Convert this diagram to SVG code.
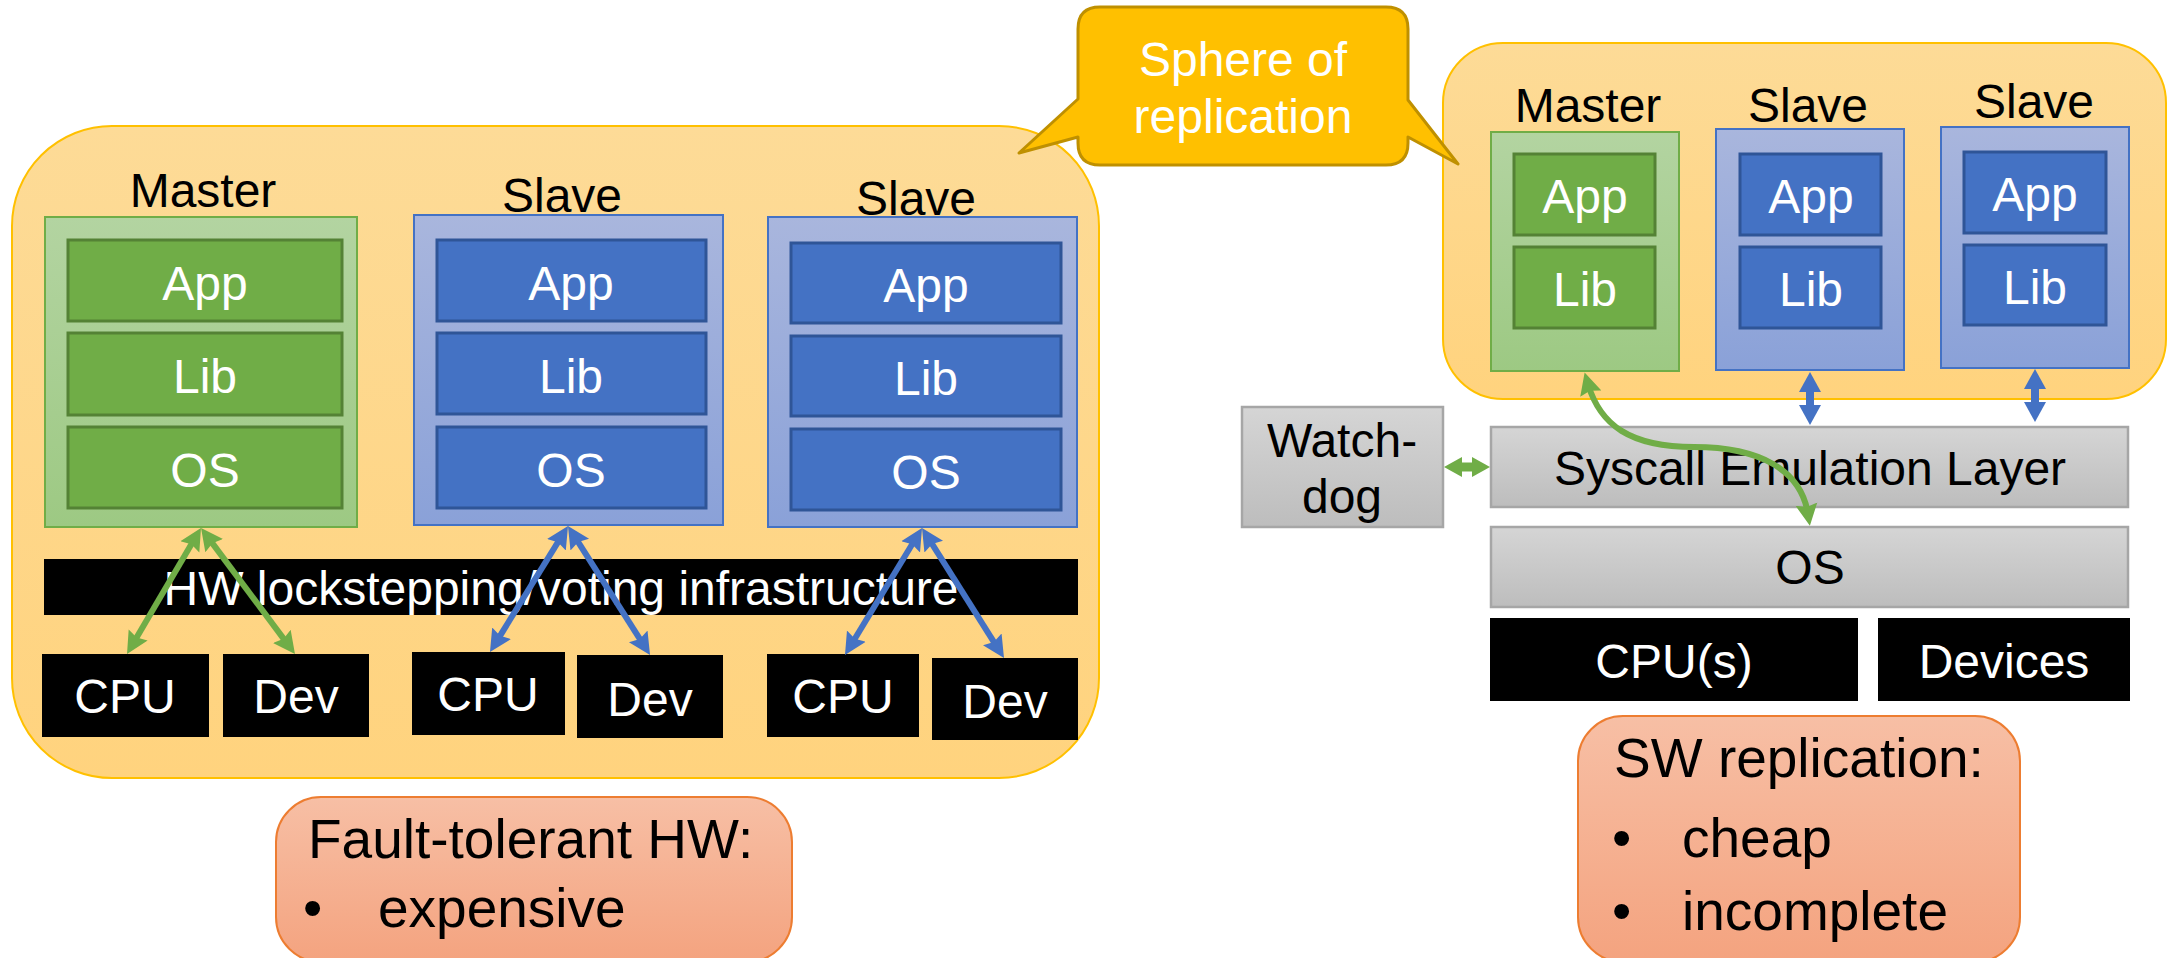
<svg xmlns="http://www.w3.org/2000/svg" width="2168" height="958" viewBox="0 0 2168 958">
<style>
text{font-family:"Liberation Sans",Arial,sans-serif;font-size:48px}
.w{fill:#fff}.k{fill:#000}
.c{text-anchor:middle}
.big{font-size:55px}
.sphere{fill:url(#gSphere);stroke:#FFC000;stroke-width:2}
.mOut{fill:url(#gGreen);stroke:#70AD47;stroke-width:2}
.sOut{fill:url(#gBlue);stroke:#4472C4;stroke-width:2}
.gIn{fill:#70AD47;stroke:#548235;stroke-width:3}
.bIn{fill:#4472C4;stroke:#2F5597;stroke-width:3}
.blk{fill:#000}
.gray{fill:url(#gGray);stroke:#A6A6A6;stroke-width:2.5}
.salmon{fill:url(#gSalmon);stroke:#ED7D31;stroke-width:2}
.ag{stroke:#70AD47;stroke-width:6;fill:none;marker-start:url(#hg);marker-end:url(#hg)}
.ab{stroke:#4472C4;stroke-width:6;fill:none;marker-start:url(#hb);marker-end:url(#hb)}
.abt{stroke:#4472C4;stroke-width:8;fill:none;marker-start:url(#hbt);marker-end:url(#hbt)}
.agt{stroke:#70AD47;stroke-width:9;fill:none;marker-start:url(#hgt);marker-end:url(#hgt)}
</style>
<defs>
<linearGradient id="gSphere" x1="0" y1="0" x2="0" y2="1"><stop offset="0" stop-color="#FDDB97"/><stop offset="1" stop-color="#FFD37E"/></linearGradient>
<linearGradient id="gGreen" x1="0" y1="0" x2="0" y2="1"><stop offset="0" stop-color="#B3D4A1"/><stop offset="1" stop-color="#9DC983"/></linearGradient>
<linearGradient id="gBlue" x1="0" y1="0" x2="0" y2="1"><stop offset="0" stop-color="#A9B6DD"/><stop offset="1" stop-color="#8AA1D8"/></linearGradient>
<linearGradient id="gGray" x1="0" y1="0" x2="0" y2="1"><stop offset="0" stop-color="#D5D5D5"/><stop offset="1" stop-color="#BDBDBD"/></linearGradient>
<linearGradient id="gSalmon" x1="0" y1="0" x2="0" y2="1"><stop offset="0" stop-color="#F7BFA5"/><stop offset="1" stop-color="#F4A37F"/></linearGradient>
<marker id="hg" markerUnits="userSpaceOnUse" markerWidth="24" markerHeight="24" viewBox="0 -12 24 24" refX="10" refY="0" orient="auto-start-reverse"><path d="M0,-11 L22,0 L0,11 L3,0 Z" fill="#70AD47"/></marker>
<marker id="hb" markerUnits="userSpaceOnUse" markerWidth="24" markerHeight="24" viewBox="0 -12 24 24" refX="10" refY="0" orient="auto-start-reverse"><path d="M0,-11 L22,0 L0,11 L3,0 Z" fill="#4472C4"/></marker>
<marker id="hbt" markerUnits="userSpaceOnUse" markerWidth="22" markerHeight="24" viewBox="0 -12 22 24" refX="1" refY="0" orient="auto-start-reverse"><path d="M0,-11 L20,0 L0,11 Z" fill="#4472C4"/></marker>
<marker id="hgt" markerUnits="userSpaceOnUse" markerWidth="20" markerHeight="22" viewBox="0 -11 20 22" refX="1" refY="0" orient="auto-start-reverse"><path d="M0,-10 L18,0 L0,10 Z" fill="#70AD47"/></marker>
</defs>

<!-- Left: fault-tolerant HW -->
<g id="sphere-left"><rect class="sphere" x="12" y="126" width="1087" height="652" rx="100" ry="100"/></g>

<g id="hw-master">
<text class="k c" x="203" y="207">Master</text>
<rect class="mOut" x="45" y="217" width="312" height="310"/>
<rect class="gIn" x="68" y="240" width="274" height="81"/><text class="w c" x="205" y="300">App</text>
<rect class="gIn" x="68" y="333" width="274" height="82"/><text class="w c" x="205" y="393">Lib</text>
<rect class="gIn" x="68" y="427" width="274" height="81"/><text class="w c" x="205" y="487">OS</text>
</g>
<g id="hw-slave1">
<text class="k c" x="562" y="212">Slave</text>
<rect class="sOut" x="414" y="215" width="309" height="310"/>
<rect class="bIn" x="437" y="240" width="269" height="81"/><text class="w c" x="571" y="300">App</text>
<rect class="bIn" x="437" y="333" width="269" height="81"/><text class="w c" x="571" y="393">Lib</text>
<rect class="bIn" x="437" y="427" width="269" height="81"/><text class="w c" x="571" y="487">OS</text>
</g>
<g id="hw-slave2">
<text class="k c" x="916" y="215">Slave</text>
<rect class="sOut" x="768" y="217" width="309" height="310"/>
<rect class="bIn" x="791" y="243" width="270" height="80"/><text class="w c" x="926" y="302">App</text>
<rect class="bIn" x="791" y="336" width="270" height="80"/><text class="w c" x="926" y="395">Lib</text>
<rect class="bIn" x="791" y="429" width="270" height="81"/><text class="w c" x="926" y="489">OS</text>
</g>
<g id="hw-bar">
<rect class="blk" x="44" y="559" width="1034" height="56"/>
<text class="w c" x="561" y="605">HW lockstepping/voting infrastructure</text>
</g>
<g id="cpu1"><rect class="blk" x="42" y="654" width="167" height="83"/><text class="w c" x="125" y="713">CPU</text></g>
<g id="dev1"><rect class="blk" x="223" y="654" width="146" height="83"/><text class="w c" x="296" y="713">Dev</text></g>
<g id="cpu2"><rect class="blk" x="412" y="652" width="153" height="83"/><text class="w c" x="488" y="711">CPU</text></g>
<g id="dev2"><rect class="blk" x="577" y="655" width="146" height="83"/><text class="w c" x="650" y="716">Dev</text></g>
<g id="cpu3"><rect class="blk" x="767" y="654" width="152" height="83"/><text class="w c" x="843" y="713">CPU</text></g>
<g id="dev3"><rect class="blk" x="932" y="658" width="146" height="82"/><text class="w c" x="1005" y="718">Dev</text></g>

<g id="note-hw">
<rect class="salmon" x="276" y="797" width="516" height="165" rx="45" ry="45"/>
<text class="k big" x="308" y="858">Fault-tolerant HW:</text>
<text class="k big" x="303" y="927">•</text>
<text class="k big" x="378" y="927">expensive</text>
</g>

<!-- Right: SW replication -->
<g id="sphere-right"><rect class="sphere" x="1443" y="43" width="723" height="356" rx="60" ry="60"/></g>
<g id="sw-master">
<text class="k c" x="1588" y="122">Master</text>
<rect class="mOut" x="1491" y="132" width="188" height="239"/>
<rect class="gIn" x="1514" y="154" width="141" height="81"/><text class="w c" x="1585" y="213">App</text>
<rect class="gIn" x="1514" y="247" width="141" height="81"/><text class="w c" x="1585" y="306">Lib</text>
</g>
<g id="sw-slave1">
<text class="k c" x="1808" y="122">Slave</text>
<rect class="sOut" x="1716" y="129" width="188" height="241"/>
<rect class="bIn" x="1740" y="154" width="141" height="81"/><text class="w c" x="1811" y="213">App</text>
<rect class="bIn" x="1740" y="247" width="141" height="81"/><text class="w c" x="1811" y="306">Lib</text>
</g>
<g id="sw-slave2">
<text class="k c" x="2034" y="118">Slave</text>
<rect class="sOut" x="1941" y="127" width="188" height="241"/>
<rect class="bIn" x="1964" y="152" width="142" height="81"/><text class="w c" x="2035" y="211">App</text>
<rect class="bIn" x="1964" y="245" width="142" height="80"/><text class="w c" x="2035" y="304">Lib</text>
</g>
<g id="watchdog">
<rect class="gray" x="1242" y="407" width="201" height="120"/>
<text class="k c" x="1342" y="457">Watch-</text>
<text class="k c" x="1342" y="513">dog</text>
</g>
<g id="syscall">
<rect class="gray" x="1491" y="427" width="637" height="80"/>
<text class="k c" x="1810" y="485">Syscall Emulation Layer</text>
</g>
<g id="os">
<rect class="gray" x="1491" y="527" width="637" height="80"/>
<text class="k c" x="1810" y="584">OS</text>
</g>
<g id="cpus"><rect class="blk" x="1490" y="618" width="368" height="83"/><text class="w c" x="1674" y="678">CPU(s)</text></g>
<g id="devices"><rect class="blk" x="1878" y="618" width="252" height="83"/><text class="w c" x="2004" y="678">Devices</text></g>

<g id="note-sw">
<rect class="salmon" x="1578" y="716" width="442" height="246" rx="45" ry="45"/>
<text class="k big" x="1614" y="777">SW replication:</text>
<text class="k big" x="1612" y="857">•</text>
<text class="k big" x="1682" y="857">cheap</text>
<text class="k big" x="1612" y="930">•</text>
<text class="k big" x="1682" y="930">incomplete</text>
</g>

<g id="connectors">
<line class="ag" x1="194.9" y1="538.3" x2="133.1" y2="643.6"/>
<line class="ag" x1="208.2" y1="537.6" x2="287.8" y2="644.4"/>
<line class="ab" x1="561.7" y1="536.2" x2="496.3" y2="641.8"/>
<line class="ab" x1="574.4" y1="536.1" x2="643.6" y2="644.9"/>
<line class="ab" x1="915.8" y1="538.3" x2="851.2" y2="644.7"/>
<line class="ab" x1="928.4" y1="538.1" x2="997.6" y2="647.9"/>
<line class="abt" x1="1810" y1="391" x2="1810" y2="406"/>
<line class="abt" x1="2035" y1="388" x2="2035" y2="403"/>
<line class="agt" x1="1461" y1="467" x2="1473" y2="467"/>
<path class="ag" d="M1588,384 C1600,425 1630,447 1694,447 C1760,447 1801,470 1808,514"/>
</g>

<g id="callout">
<path d="M1100,7 H1386 Q1408,7 1408,29 V100 L1458,164 L1408,137 V143 Q1408,165 1386,165 H1100 Q1078,165 1078,143 V137 L1019,153 L1078,99 V29 Q1078,7 1100,7 Z" fill="#FFC000" stroke="#BF9000" stroke-width="3" stroke-linejoin="round"/>
<text class="w c" x="1243" y="76">Sphere of</text>
<text class="w c" x="1243" y="133">replication</text>
</g>
</svg>
